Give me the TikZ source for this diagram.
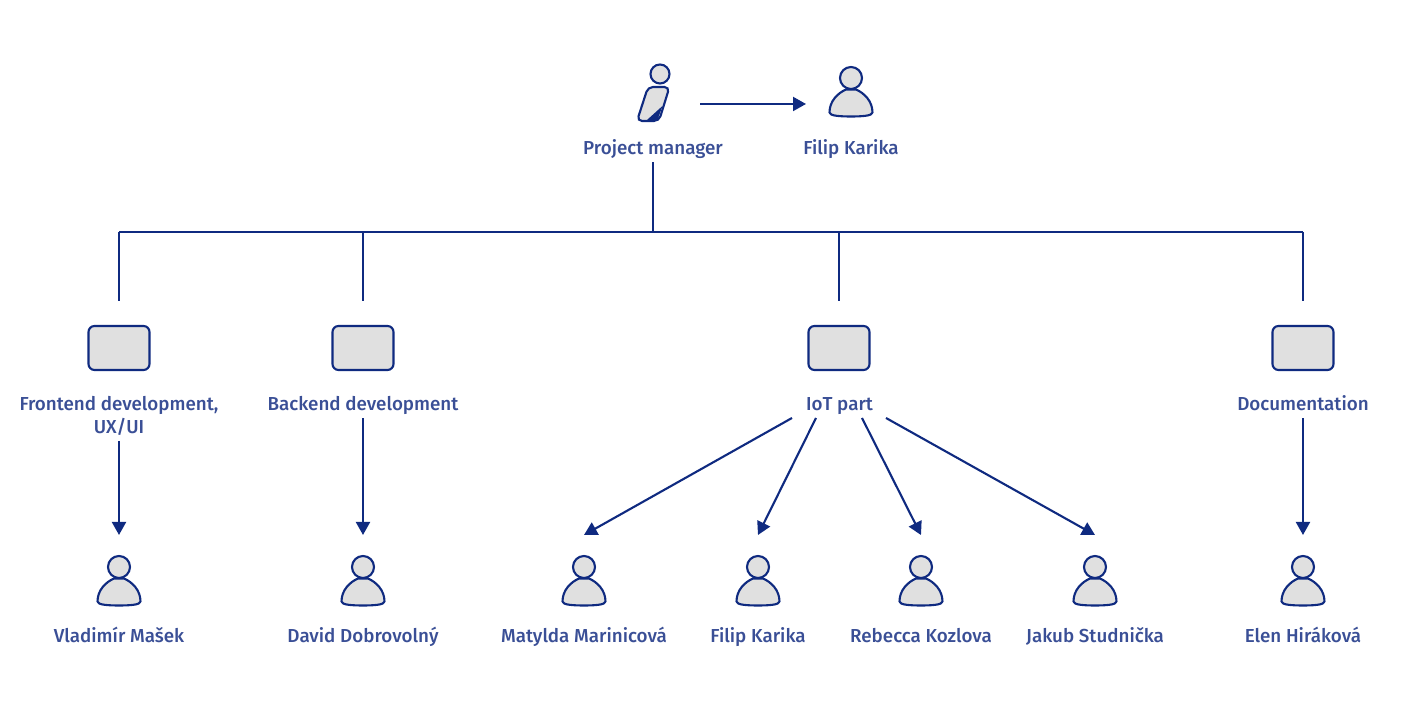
\documentclass[tikz,border=0pt]{standalone}
\usepackage{fontspec}
\setmainfont{Fira Sans Medium}
\usetikzlibrary{arrows.meta}

\definecolor{linkblue}{HTML}{0F2A80}
\definecolor{textblue}{HTML}{3A4F96}
\definecolor{iconfill}{HTML}{E0E0E0}

\tikzset{
  link/.style={linkblue, line width=0.6pt},
  arrow/.style={link, -{Triangle[length=0.13cm,width=0.14cm]}},
  caption/.style={text=textblue, font=\fontsize{5.35}{6.54}\selectfont, align=center, inner sep=0pt, outer sep=0.025cm, text height=0.13cm, text depth=0.05cm},
  teambox/.style={draw=linkblue, fill=iconfill, line width=0.6pt, rounded corners=0.06cm, minimum width=0.61cm, minimum height=0.44cm, inner sep=0pt, outer sep=0.25cm},
  icon/.style={minimum width=0.44cm, minimum height=0.5cm, inner sep=0pt, outer sep=0.21cm},
  person/.pic={
    \draw[draw=linkblue, fill=iconfill, line width=0.6pt, line join=round]
      (-0.215,-0.205) .. controls (-0.215,-0.09) and (-0.13,-0.01) .. (-0.05,0.025)
      -- (0.05,0.025) .. controls (0.13,-0.01) and (0.215,-0.09) .. (0.215,-0.205)
      .. controls (0.215,-0.24) and (0.10,-0.245) .. (0,-0.245)
      .. controls (-0.10,-0.245) and (-0.215,-0.24) .. (-0.215,-0.205) -- cycle;
    \draw[draw=linkblue, fill=iconfill, line width=0.6pt] (0,0.14) circle (0.11);
  },
  manager/.pic={
    \draw[draw=linkblue, fill=iconfill, line width=0.6pt] (0.03,0.30) circle (0.095);
    \draw[draw=linkblue, fill=iconfill, line width=0.6pt, rounded corners=0.05cm]
      (-0.09,0.17) -- (0.125,0.17) -- (0.02,-0.17) -- (-0.20,-0.17) -- cycle;
    \fill[linkblue] (-0.10,-0.16) -- (0.055,-0.02) -- (0.005,-0.16) -- cycle;
  }
}

\begin{document}
\begin{tikzpicture}
\useasboundingbox (0,0) rectangle (14.16,7.08);

% top row
\node[icon] (mgr) at (6.57,6.04) {};
\node[icon] (top) at (8.51,6.04) {};
\pic at (mgr) {manager};
\pic at (8.51,6.16) {person};
\node[caption] (pm) at (6.53,5.57) {Project manager};
\node[caption] (fk) at (8.51,5.57) {Filip Karika};
\coordinate (mgrout) at (7.00,6.04);
\coordinate (topin) at (8.06,6.04);
\draw[arrow] (mgrout) -- (topin);

% bus
\coordinate (bus) at (6.53,4.76);
\coordinate (bus1) at (1.19,4.76);
\coordinate (bus2) at (3.63,4.76);
\coordinate (bus3) at (8.39,4.76);
\coordinate (bus4) at (13.03,4.76);
\draw[link] (pm.south) -- (bus);
\draw[link] (bus1) -- (bus4);

% teams
\node[teambox] (box1) at (1.19,3.6) {};
\node[teambox] (box2) at (3.63,3.6) {};
\node[teambox] (box3) at (8.39,3.6) {};
\node[teambox] (box4) at (13.03,3.6) {};
\draw[link] (bus1) -- (box1.north);
\draw[link] (bus2) -- (box2.north);
\draw[link] (bus3) -- (box3.north);
\draw[link] (bus4) -- (box4.north);

\node[caption] (fe) at (1.19,2.785) {Frontend development,\\UX/UI};
\node[caption] (be) at (3.63,3.01) {Backend development};
\node[caption] (iot) at (8.395,3.01) {IoT part};
\node[caption] (doc) at (13.03,3.01) {Documentation};

% people
\node[icon] (u1) at (1.19,1.27) {};
\node[icon] (u2) at (3.63,1.27) {};
\node[icon] (u3) at (5.84,1.27) {};
\node[icon] (u4) at (7.58,1.27) {};
\node[icon] (u5) at (9.21,1.27) {};
\node[icon] (u6) at (10.95,1.27) {};
\node[icon] (u7) at (13.03,1.27) {};
\pic at (u1) {person};
\pic at (u2) {person};
\pic at (u3) {person};
\pic at (u4) {person};
\pic at (u5) {person};
\pic at (u6) {person};
\pic at (u7) {person};

\node[caption] (n1) at (1.19,0.69) {Vladimír Mašek};
\node[caption] (n2) at (3.63,0.69) {David Dobrovolný};
\node[caption] (n3) at (5.84,0.69) {Matylda Marinicová};
\node[caption] (n4) at (7.58,0.69) {Filip Karika};
\node[caption] (n5) at (9.21,0.69) {Rebecca Kozlova};
\node[caption] (n6) at (10.95,0.69) {Jakub Studnička};
\node[caption] (n7) at (13.03,0.69) {Elen Hiráková};

\coordinate (iota) at (7.92,2.90);
\coordinate (iotb) at (8.16,2.90);
\coordinate (iotc) at (8.62,2.90);
\coordinate (iotd) at (8.86,2.90);

\draw[arrow] (fe.south) -- (u1.north);
\draw[arrow] (be.south) -- (u2.north);
\draw[arrow] (iota) -- (u3.north);
\draw[arrow] (iotb) -- (u4.north);
\draw[arrow] (iotc) -- (u5.north);
\draw[arrow] (iotd) -- (u6.north);
\draw[arrow] (doc.south) -- (u7.north);

\end{tikzpicture}
\end{document}
